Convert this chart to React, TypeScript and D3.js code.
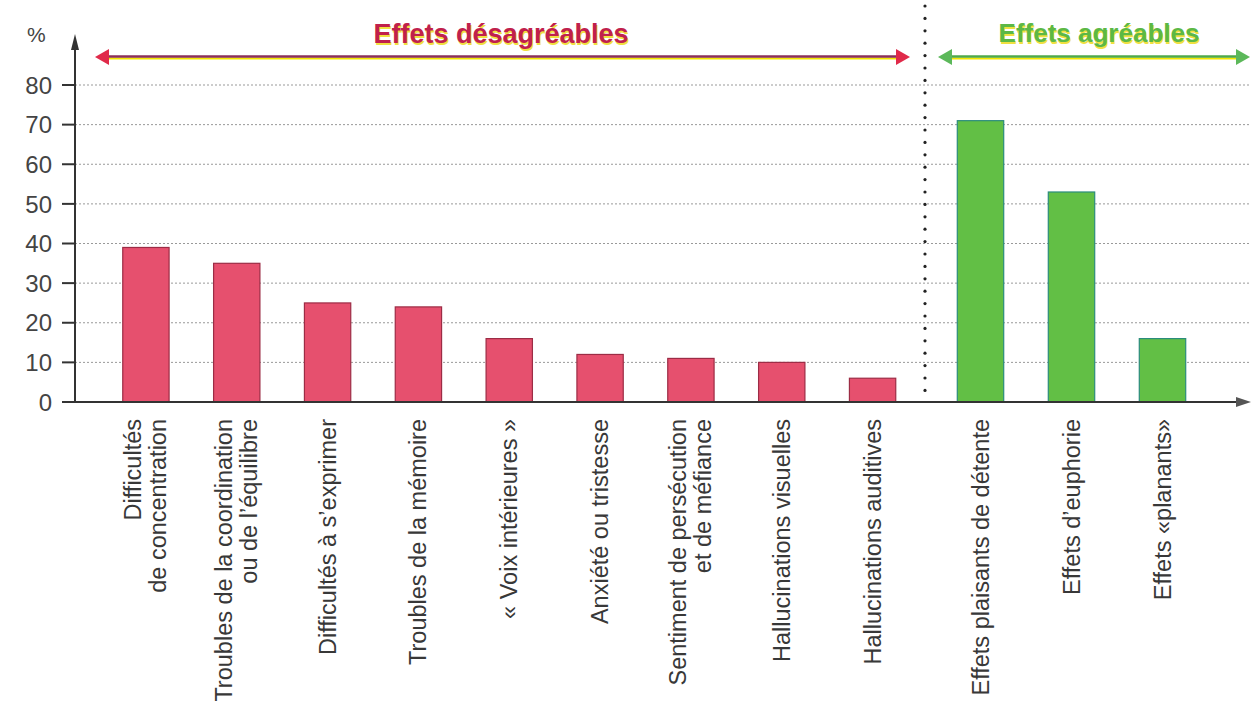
import React from "react";
import * as d3 from "d3";

const unpleasantCategories = [
  ["Difficultés", "de concentration"],
  ["Troubles de la coordination", "ou de l’équilibre"],
  ["Difficultés à s’exprimer"],
  ["Troubles de la mémoire"],
  ["« Voix intérieures »"],
  ["Anxiété ou tristesse"],
  ["Sentiment de persécution", "et de méfiance"],
  ["Hallucinations visuelles"],
  ["Hallucinations auditives"],
];
const unpleasantValues = [39, 35, 25, 24, 16, 12, 11, 10, 6];

const pleasantCategories = [
  ["Effets plaisants de détente"],
  ["Effets d’euphorie"],
  ["Effets «planants»"],
];
const pleasantValues = [71, 53, 16];

const yTicks = [0, 10, 20, 30, 40, 50, 60, 70, 80];
const unpleasantTitle = "Effets désagréables";
const pleasantTitle = "Effets agréables";
const yUnit = "%";

const W = 1251;
const H = 723;
const FONT = "'Liberation Sans', 'DejaVu Sans', sans-serif";

export default function App() {
  const y = d3.scaleLinear().domain([0, 80]).range([402, 85]);
  const axisX = 75;
  const xU = d3
    .scaleBand<number>()
    .domain(d3.range(unpleasantValues.length))
    .range([100.5, 918])
    .paddingInner(0.49)
    .paddingOuter(0.245);
  const xP = d3
    .scaleBand<number>()
    .domain(d3.range(pleasantValues.length))
    .range([935, 1208])
    .paddingInner(0.49)
    .paddingOuter(0.245);

  const sepX = 925;
  const dots = d3.range(6, 402, 12.4);

  const renderLabel = (lines: string[], cx: number, key: string) => {
    const lh = 25;
    const n = lines.length;
    return (
      <g key={key}>
        {lines.map((ln, i) => {
          const x = cx + (i - (n - 1) / 2) * lh + 8;
          return (
            <text
              key={i}
              transform={`translate(${x},419) rotate(-90)`}
              textAnchor="end"
              fontFamily={FONT}
              fontSize={23.5}
              fill="#383838"
            >
              {ln}
            </text>
          );
        })}
      </g>
    );
  };

  const arrowHead = (x: number, yy: number, dir: number, color: string) => {
    const p = [
      [x, yy],
      [x - dir * 14, yy - 8],
      [x - dir * 14, yy + 8],
    ];
    return <polygon points={p.map((d) => d.join(",")).join(" ")} fill={color} />;
  };

  return (
    <svg
      width={W}
      height={H}
      style={{ position: "absolute", left: 0, top: 0, background: "#fff" }}
    >
      <rect x={0} y={0} width={W} height={H} fill="#fff" />
      {/* grid lines */}
      {yTicks
        .filter((t) => t > 0)
        .map((t) => (
          <line
            key={t}
            x1={axisX}
            x2={W}
            y1={y(t)}
            y2={y(t)}
            stroke="#999"
            strokeWidth={1}
            strokeDasharray="2,2"
          />
        ))}
      {/* y ticks & labels */}
      {yTicks.map((t) => (
        <g key={"t" + t}>
          <line x1={62} x2={axisX} y1={y(t)} y2={y(t)} stroke="#333" strokeWidth={2} />
          <text
            x={52}
            y={y(t)}
            dy="0.36em"
            textAnchor="end"
            fontFamily={FONT}
            fontSize={24}
            fill="#444"
          >
            {t}
          </text>
        </g>
      ))}
      <text x={27} y={42} fontFamily={FONT} fontSize={21} fill="#444">
        {yUnit}
      </text>
      {/* y axis */}
      <line x1={axisX} x2={axisX} y1={y(0)} y2={44} stroke="#333" strokeWidth={2} />
      <polygon points={`${axisX},34 ${axisX - 4},50 ${axisX + 4},50`} fill="#333" />
      {/* separator */}
      {dots.map((d, i) => (
        <circle key={i} cx={sepX} cy={d} r={1.6} fill="#222" />
      ))}
      {/* bars */}
      {unpleasantValues.map((v, i) => (
        <rect
          key={"u" + i}
          x={xU(i)}
          y={y(v)}
          width={xU.bandwidth()}
          height={y(0) - y(v)}
          fill="#e6506e"
          stroke="#9c2c45"
          strokeWidth={1.2}
        />
      ))}
      {pleasantValues.map((v, i) => (
        <rect
          key={"p" + i}
          x={xP(i)}
          y={y(v)}
          width={xP.bandwidth()}
          height={y(0) - y(v)}
          fill="#62bf45"
          stroke="#2b8c7c"
          strokeWidth={1.2}
        />
      ))}
      {/* x axis */}
      <line x1={62} x2={1240} y1={y(0)} y2={y(0)} stroke="#333" strokeWidth={2} />
      <polygon
        points={`1251,${y(0)} 1236,${y(0) - 5} 1236,${y(0) + 5}`}
        fill="#555"
      />
      {/* labels */}
      {unpleasantCategories.map((c, i) =>
        renderLabel(c, (xU(i) as number) + xU.bandwidth() / 2, "lu" + i)
      )}
      {pleasantCategories.map((c, i) =>
        renderLabel(c, (xP(i) as number) + xP.bandwidth() / 2, "lp" + i)
      )}
      {/* group headers */}
      <line x1={105} x2={898} y1={58.5} y2={58.5} stroke="#f2e600" strokeWidth={2} />
      <line x1={105} x2={898} y1={56.5} y2={56.5} stroke="#8a2f5a" strokeWidth={2.5} />
      {arrowHead(95, 57, -1, "#e02a4a")}
      {arrowHead(910, 57, 1, "#e02a4a")}
      <text
        x={501}
        y={43}
        textAnchor="middle"
        fontFamily={FONT}
        fontWeight="bold"
        fontSize={27}
        fill="#f0e040"
        transform="translate(1,1.5)"
      >
        {unpleasantTitle}
      </text>
      <text
        x={501}
        y={43}
        textAnchor="middle"
        fontFamily={FONT}
        fontWeight="bold"
        fontSize={27}
        fill="#c0204c"
      >
        {unpleasantTitle}
      </text>

      <line x1={948} x2={1238} y1={58.5} y2={58.5} stroke="#f2e600" strokeWidth={2} />
      <line x1={948} x2={1238} y1={56.5} y2={56.5} stroke="#4fa84a" strokeWidth={2.5} />
      {arrowHead(938, 57, -1, "#5cb85a")}
      {arrowHead(1250, 57, 1, "#5cb85a")}
      <text
        x={1099}
        y={42}
        textAnchor="middle"
        fontFamily={FONT}
        fontWeight="bold"
        fontSize={26}
        fill="#f0e040"
        transform="translate(1,1.5)"
      >
        {pleasantTitle}
      </text>
      <text
        x={1099}
        y={42}
        textAnchor="middle"
        fontFamily={FONT}
        fontWeight="bold"
        fontSize={26}
        fill="#5cb845"
      >
        {pleasantTitle}
      </text>
    </svg>
  );
}
